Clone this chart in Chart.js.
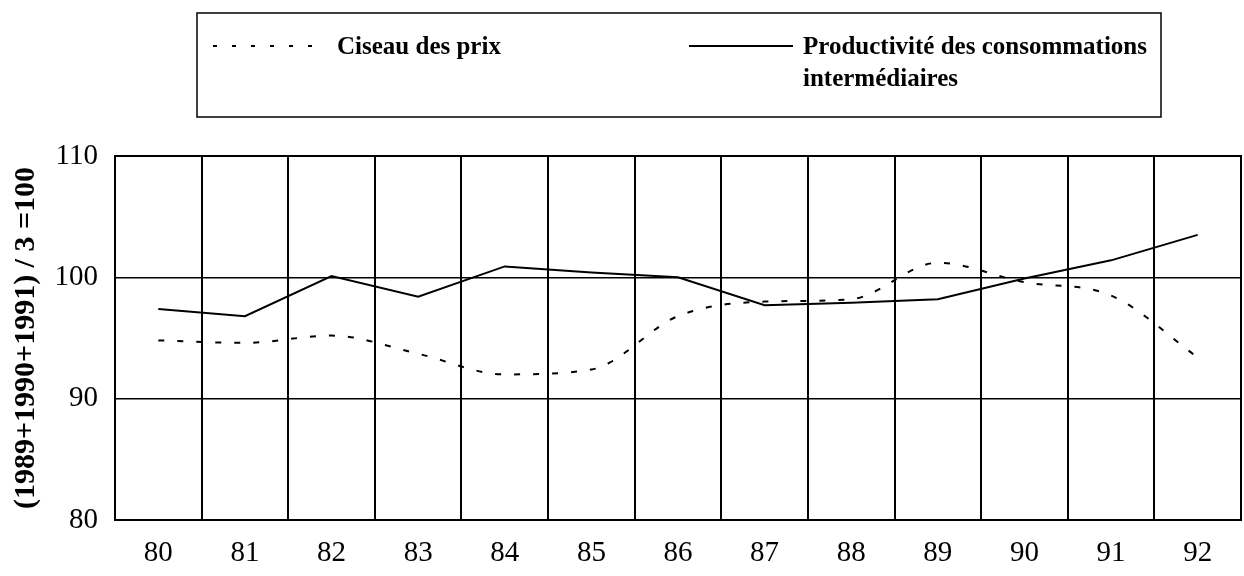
<!DOCTYPE html>
<html>
<head>
<meta charset="utf-8">
<script src="https://cdn.jsdelivr.net/npm/chart.js@4"></script>
<style>
html,body{margin:0;padding:0;background:#fff;}
#wrap{width:1244px;height:576px;position:relative;}
</style>
</head>
<body>
<div id="wrap"><canvas id="c" width="1244" height="576"></canvas></div>
<script>
const categories = ["80","81","82","83","84","85","86","87","88","89","90","91","92"];
const ciseauPrix = [94.8, 94.6, 95.2, 93.7, 92.0, 92.4, 96.8, 98.0, 98.2, 101.2, 99.6, 98.5, 93.4];
const productivite = [97.4, 96.8, 100.1, 98.4, 100.9, 100.4, 100.0, 97.7, 97.9, 98.2, 99.9, 101.4, 103.5];
const seriesNames = ["Ciseau des prix", "Productivité des consommations", "intermédiaires"];
const yTitle = "(1989+1990+1991) / 3 =100";
const yMin = 80, yMax = 110, yStep = 10;

const SERIF = '"Liberation Serif", "Times New Roman", serif';

const boxLegend = {
  id: 'boxLegend',
  afterDraw(chart) {
    const ctx = chart.ctx;
    ctx.save();
    ctx.strokeStyle = '#000';
    ctx.lineWidth = 1.5;
    ctx.strokeRect(197, 13, 964, 104);
    ctx.beginPath();
    ctx.setLineDash([4, 15]);
    ctx.lineWidth = 2;
    ctx.moveTo(213, 46);
    ctx.lineTo(327, 46);
    ctx.stroke();
    ctx.setLineDash([]);
    ctx.beginPath();
    ctx.moveTo(689, 46);
    ctx.lineTo(793, 46);
    ctx.stroke();
    ctx.fillStyle = '#000';
    ctx.font = 'bold 25px ' + SERIF;
    ctx.textBaseline = 'middle';
    ctx.textAlign = 'left';
    ctx.fillText(seriesNames[0], 337, 48);
    ctx.fillText(seriesNames[1], 803, 48);
    ctx.fillText(seriesNames[2], 803, 80);
    ctx.restore();
  }
};

new Chart(document.getElementById('c'), {
  type: 'line',
  data: {
    labels: categories,
    datasets: [
      {
        label: seriesNames[0],
        data: ciseauPrix,
        borderColor: '#000',
        borderWidth: 2,
        borderDash: [6, 13],
        pointRadius: 0,
        tension: 0.3,
        cubicInterpolationMode: 'monotone',
        fill: false
      },
      {
        label: seriesNames[1] + ' ' + seriesNames[2],
        data: productivite,
        borderColor: '#000',
        borderWidth: 2,
        pointRadius: 0,
        tension: 0,
        fill: false
      }
    ]
  },
  options: {
    responsive: false,
    animation: false,
    devicePixelRatio: 1,
    layout: { padding: { top: 156, right: 3, bottom: 0, left: 0 } },
    plugins: {
      legend: { display: false },
      tooltip: { enabled: false },
      title: { display: false }
    },
    scales: {
      x: {
        type: 'category',
        offset: true,
        grid: { display: true, offset: true, color: '#000', lineWidth: 2, drawTicks: false },
        border: { display: true, color: '#000', width: 2 },
        ticks: {
          color: '#000',
          font: { family: SERIF, size: 29 },
          padding: 16,
          maxRotation: 0,
          autoSkip: false
        },
        afterFit(s) { s.height = 56; }
      },
      y: {
        min: yMin,
        max: yMax,
        grid: { color: '#000', lineWidth: 1.5, drawTicks: false },
        border: { display: true, color: '#000', width: 2 },
        ticks: {
          stepSize: yStep,
          color: '#000',
          font: { family: SERIF, size: 29 },
          padding: 17
        },
        title: {
          display: true,
          text: yTitle,
          color: '#000',
          font: { family: SERIF, size: 30, weight: 'bold' },
          padding: { top: 8, bottom: 0 }
        },
        afterFit(s) { s.width = 115; }
      }
    }
  },
  plugins: [boxLegend, {
    id: 'frame',
    afterDatasetsDraw(chart) {
      const a = chart.chartArea, ctx = chart.ctx;
      ctx.save();
      ctx.strokeStyle = '#000';
      ctx.lineWidth = 2;
      ctx.strokeRect(a.left, a.top, a.right - a.left, a.bottom - a.top);
      ctx.restore();
    }
  }]
});
</script>
</body>
</html>
